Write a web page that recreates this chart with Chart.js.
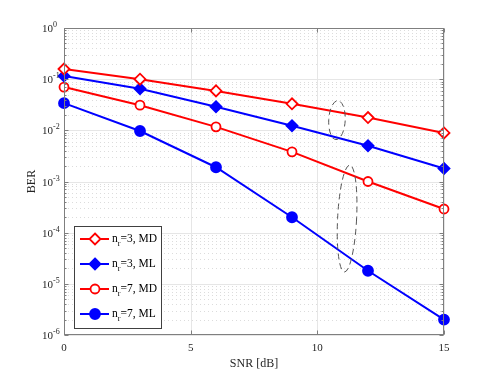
<!DOCTYPE html>
<html>
<head>
<meta charset="utf-8">
<script src="https://cdn.jsdelivr.net/npm/chart.js@4"></script>
<style>
  html, body { margin: 0; padding: 0; background: #fff; }
  #wrap { width: 491px; height: 377px; }
</style>
</head>
<body>
<div id="wrap"><canvas id="c" width="491" height="377"></canvas></div>
<script>
// SNR points (dB)
const snr = [0, 3, 6, 9, 12, 15];

// BER per curve
const berMD3 = [0.158, 0.1, 0.059, 0.033, 0.0178, 0.0089];
const berML3 = [0.115, 0.065, 0.029, 0.0123, 0.005, 0.0018];
const berMD7 = [0.07, 0.031, 0.0117, 0.0038, 0.001, 0.00029];
const berML7 = [0.034, 0.0097, 0.0019, 0.0002, 0.000018, 0.000002];

const legendNames = [['3', 'MD'], ['3', 'ML'], ['7', 'MD'], ['7', 'ML']];
const xTicks = [0, 5, 10, 15];
const yExps = [0, -1, -2, -3, -4, -5, -6];

// the two dashed groupings (data coords: x range, y range)
const groups = [
  { x: [10.45, 11.1], y: [0.038, 0.0066] },
  { x: [10.8, 11.55], y: [0.0021, 0.000017] }
];

const RED = '#ff0000';
const BLUE = '#0000ff';
const SERIF = '"Liberation Serif", "DejaVu Serif", serif';

const toPts = arr => arr.map((v, i) => ({ x: snr[i], y: v }));

const styles = [
  { color: RED, point: 'rectRot', fill: '#fff', r: 5.5 },
  { color: BLUE, point: 'rectRot', fill: BLUE, r: 5.5 },
  { color: RED, point: 'circle', fill: '#fff', r: 4.5 },
  { color: BLUE, point: 'circle', fill: BLUE, r: 5 }
];

const series = [berMD3, berML3, berMD7, berML7];

const datasets = series.map((s, i) => ({
  label: 'n_r=' + legendNames[i][0] + ', ' + legendNames[i][1],
  data: toPts(s),
  borderColor: styles[i].color,
  borderWidth: 2,
  pointStyle: styles[i].point,
  pointRadius: styles[i].r,
  pointBackgroundColor: styles[i].fill,
  pointBorderColor: styles[i].color,
  pointBorderWidth: 1.8,
  tension: 0,
  clip: false
}));

// grid, box, ticks and labels drawn by hand so they look like the matlab figure
const frame = {
  id: 'frame',
  beforeDatasetsDraw(chart) {
    const { ctx, chartArea: a, scales: { x, y } } = chart;
    ctx.save();
    // minor dotted horizontal grid
    ctx.strokeStyle = '#dcdcdc';
    ctx.lineWidth = 1;
    ctx.setLineDash([1, 3]);
    for (let e = -6; e < 0; e++) {
      for (let m = 2; m <= 9; m++) {
        const py = Math.round(y.getPixelForValue(m * Math.pow(10, e))) + 0.5;
        ctx.beginPath(); ctx.moveTo(a.left, py); ctx.lineTo(a.right, py); ctx.stroke();
      }
    }
    // major grid
    ctx.setLineDash([]);
    ctx.strokeStyle = '#e6e6e6';
    yExps.forEach(e => {
      const py = Math.round(y.getPixelForValue(Math.pow(10, e))) + 0.5;
      ctx.beginPath(); ctx.moveTo(a.left, py); ctx.lineTo(a.right, py); ctx.stroke();
    });
    xTicks.forEach(t => {
      const px = Math.round(x.getPixelForValue(t)) + 0.5;
      ctx.beginPath(); ctx.moveTo(px, a.top); ctx.lineTo(px, a.bottom); ctx.stroke();
    });
    ctx.restore();
  },
  afterDatasetsDraw(chart) {
    const { ctx, chartArea: a, scales: { x, y } } = chart;
    ctx.save();
    // dashed ellipses
    ctx.strokeStyle = '#555';
    ctx.lineWidth = 1;
    ctx.setLineDash([6, 4]);
    groups.forEach(g => {
      const x0 = x.getPixelForValue(g.x[0]), x1 = x.getPixelForValue(g.x[1]);
      const y0 = y.getPixelForValue(g.y[0]), y1 = y.getPixelForValue(g.y[1]);
      ctx.beginPath();
      ctx.ellipse((x0 + x1) / 2, (y0 + y1) / 2, Math.abs(x1 - x0) / 2, Math.abs(y1 - y0) / 2, 0.05, 0, Math.PI * 2);
      ctx.stroke();
    });
    ctx.setLineDash([]);

    // axes box
    ctx.strokeStyle = '#7f7f7f';
    ctx.lineWidth = 1;
    const L = Math.round(a.left) + 0.5, R = Math.round(a.right) - 0.5;
    const T = Math.round(a.top) + 0.5, B = Math.round(a.bottom) - 0.5;
    ctx.strokeRect(L, T, R - L, B - T);

    // ticks inside, both sides
    ctx.beginPath();
    yExps.forEach(e => {
      const py = Math.round(y.getPixelForValue(Math.pow(10, e))) + 0.5;
      ctx.moveTo(L, py); ctx.lineTo(L + 4, py);
      ctx.moveTo(R, py); ctx.lineTo(R - 4, py);
    });
    for (let e = -6; e < 0; e++) {
      for (let m = 2; m <= 9; m++) {
        const py = Math.round(y.getPixelForValue(m * Math.pow(10, e))) + 0.5;
        ctx.moveTo(L, py); ctx.lineTo(L + 2, py);
        ctx.moveTo(R, py); ctx.lineTo(R - 2, py);
      }
    }
    xTicks.forEach(t => {
      const px = Math.round(x.getPixelForValue(t)) + 0.5;
      ctx.moveTo(px, B); ctx.lineTo(px, B - 4);
      ctx.moveTo(px, T); ctx.lineTo(px, T + 4);
    });
    ctx.stroke();

    // tick labels
    ctx.fillStyle = '#262626';
    ctx.textBaseline = 'alphabetic';
    ctx.font = '11px ' + SERIF;
    ctx.textAlign = 'center';
    xTicks.forEach(t => {
      ctx.fillText(String(t), x.getPixelForValue(t), a.bottom + 16);
    });
    yExps.forEach(e => {
      const py = y.getPixelForValue(Math.pow(10, e));
      ctx.font = '11px ' + SERIF;
      ctx.textAlign = 'right';
      ctx.fillText('10', 53, py + 4);
      ctx.font = '8px ' + SERIF;
      ctx.textAlign = 'left';
      ctx.fillText(e === 0 ? '0' : '-' + Math.abs(e), 53, py - 1);
    });

    // axis titles
    ctx.font = '12px ' + SERIF;
    ctx.textAlign = 'center';
    ctx.fillText('SNR [dB]', (a.left + a.right) / 2, 367);
    ctx.save();
    ctx.translate(35, (a.top + a.bottom) / 2);
    ctx.rotate(-Math.PI / 2);
    ctx.fillText('BER', 0, 0);
    ctx.restore();

    // legend box
    const bx = 74.5, by = 226.5, bw = 87, bh = 102;
    ctx.fillStyle = '#fff';
    ctx.fillRect(bx, by, bw, bh);
    ctx.strokeStyle = '#404040';
    ctx.lineWidth = 1;
    ctx.strokeRect(bx, by, bw, bh);
    const rows = [239, 264, 289, 314];
    rows.forEach((ry, i) => {
      const st = styles[i];
      ctx.strokeStyle = st.color;
      ctx.lineWidth = 2;
      ctx.beginPath(); ctx.moveTo(80, ry); ctx.lineTo(109, ry); ctx.stroke();
      ctx.fillStyle = st.fill;
      ctx.lineWidth = 1.8;
      ctx.beginPath();
      if (st.point === 'circle') {
        ctx.arc(95, ry, st.r, 0, Math.PI * 2);
      } else {
        ctx.moveTo(95, ry - st.r); ctx.lineTo(95 + st.r, ry);
        ctx.lineTo(95, ry + st.r); ctx.lineTo(95 - st.r, ry); ctx.closePath();
      }
      ctx.fill(); ctx.stroke();

      ctx.fillStyle = '#000';
      ctx.textAlign = 'left';
      ctx.font = '11.5px ' + SERIF;
      ctx.fillText('n', 112, ry + 3);
      const nw = ctx.measureText('n').width;
      ctx.font = '8px ' + SERIF;
      ctx.fillText('r', 112 + nw, ry + 7);
      const rw = ctx.measureText('r').width;
      ctx.font = '11.5px ' + SERIF;
      ctx.fillText('=' + legendNames[i][0] + ', ' + legendNames[i][1], 112 + nw + rw, ry + 3);
    });
    ctx.restore();
  }
};

new Chart(document.getElementById('c'), {
  type: 'line',
  data: { datasets },
  options: {
    responsive: false,
    animation: false,
    layout: { padding: { left: 64, right: 47, top: 28, bottom: 42 } },
    plugins: { legend: { display: false }, tooltip: { enabled: false } },
    scales: {
      x: { type: 'linear', min: 0, max: 15, display: false },
      y: { type: 'logarithmic', min: 1e-6, max: 1, display: false }
    }
  },
  plugins: [frame]
});
</script>
</body>
</html>
